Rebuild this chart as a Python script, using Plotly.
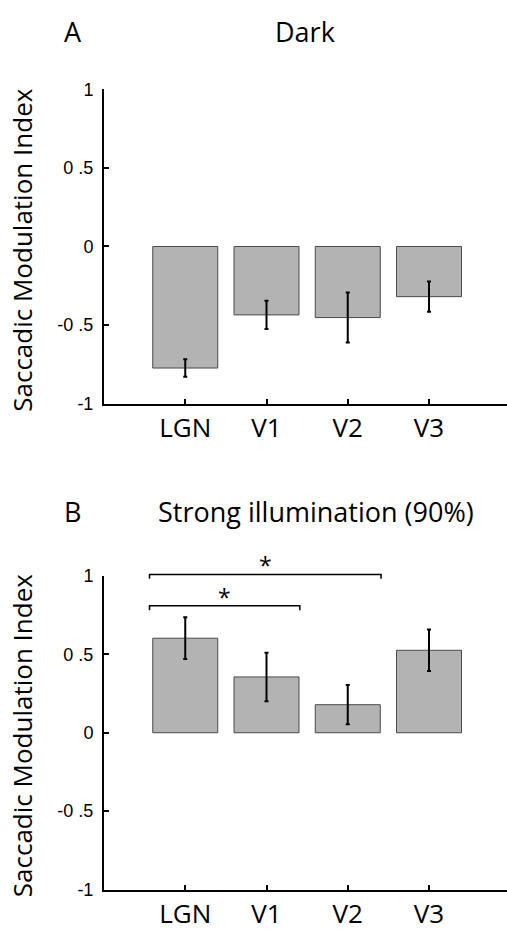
import plotly.graph_objects as go

# Saccadic modulation index per visual area, two lighting conditions
areas = ["LGN", "V1", "V2", "V3"]
dark_mean = [-0.773, -0.435, -0.452, -0.319]
dark_sem = [0.056, 0.090, 0.159, 0.096]
light_mean = [0.603, 0.356, 0.179, 0.526]
light_sem = [0.133, 0.155, 0.125, 0.132]

# significance brackets for the illuminated condition: (from area, to area, height)
sig_pairs = [("LGN", "V2", 1.01), ("LGN", "V1", 0.81)]

y_ticks = [-1, -0.5, 0, 0.5, 1]
y_ticktext = ["-1", "-0 .5", "0", "0 .5", "1"]

W, H = 507, 938
pos = list(range(1, len(areas) + 1))
X_RANGE = [0, 4.96]
Y_RANGE = [-1, 1]

BAR_FILL = "#b3b3b3"
BAR_EDGE = "#4a4a4a"
TEXT_FONT = "Open Sans, DejaVu Sans, sans-serif"
NUM_FONT = "Liberation Sans, Arial, sans-serif"


def fx(px):
    return px / W


def fy(py):
    return 1 - py / H


def bars(values, errs, xa, ya):
    return go.Bar(
        x=pos, y=values, width=0.8,
        marker=dict(color=BAR_FILL, line=dict(color=BAR_EDGE, width=1)),
        error_y=dict(type="data", array=errs, visible=True,
                     color="black", thickness=2, width=2),
        xaxis=xa, yaxis=ya, showlegend=False, hoverinfo="skip",
    )


fig = go.Figure()
fig.add_trace(bars(dark_mean, dark_sem, "x", "y"))
fig.add_trace(bars(light_mean, light_sem, "x2", "y2"))

x_dom = [fx(104), 1.0]
top_dom = [fy(402.3), fy(81)]
bot_dom = [fy(898.7), fy(578.3)]

xaxis_common = dict(
    range=X_RANGE, tickvals=pos, ticktext=areas, ticks="inside", ticklen=5,
    tickwidth=1.5, tickcolor="black", showline=True, linecolor="black",
    linewidth=2, showgrid=False, zeroline=False, domain=x_dom,
    tickfont=dict(family=TEXT_FONT, size=26, color="black"),
    ticklabelstandoff=0,
)
yaxis_common = dict(
    range=Y_RANGE, tickvals=y_ticks, ticktext=y_ticktext, ticks="inside",
    ticklen=5, tickwidth=1.5, tickcolor="black", showline=True,
    linecolor="black", linewidth=2, showgrid=False, zeroline=False,
    tickfont=dict(family=NUM_FONT, size=18, color="black"),
    ticklabelstandoff=5,
)

fig.update_layout(
    width=W, height=H, margin=dict(l=0, r=0, t=0, b=0),
    paper_bgcolor="white", plot_bgcolor="white",
    bargap=0.2,
    xaxis=dict(xaxis_common, anchor="y"),
    yaxis=dict(yaxis_common, domain=top_dom, anchor="x"),
    xaxis2=dict(xaxis_common, anchor="y2"),
    yaxis2=dict(yaxis_common, domain=bot_dom, anchor="x2"),
)

annotations = []


def text_ann(txt, px, py, size=27, angle=0):
    annotations.append(dict(
        text=txt, x=fx(px), y=fy(py), xref="paper", yref="paper",
        xanchor="center", yanchor="middle", showarrow=False, textangle=angle,
        font=dict(family=TEXT_FONT, size=size, color="black"),
    ))


text_ann("A", 73, 22)
text_ann("Dark", 305, 22)
text_ann("B", 72, 512)
text_ann("Strong illumination (90%)", 316, 512)
text_ann("Saccadic Modulation Index", 22, 245, size=26, angle=-90)
text_ann("Saccadic Modulation Index", 22, 741, size=26, angle=-90)

# brackets drawn in axis-domain units so they can sit just above the y range
shapes = []


def to_dom_x(v):
    return (v - X_RANGE[0]) / (X_RANGE[1] - X_RANGE[0])


def to_dom_y(v):
    return (v - Y_RANGE[0]) / (Y_RANGE[1] - Y_RANGE[0])


drop = 0.028
for a, b, h in sig_pairs:
    x0 = areas.index(a) + 1 - 0.44
    x1 = areas.index(b) + 1 + 0.41
    path = "M {:.4f},{:.4f} L {:.4f},{:.4f} L {:.4f},{:.4f} L {:.4f},{:.4f}".format(
        to_dom_x(x0), to_dom_y(h - drop), to_dom_x(x0), to_dom_y(h),
        to_dom_x(x1), to_dom_y(h), to_dom_x(x1), to_dom_y(h - drop))
    shapes.append(dict(type="path", path=path, xref="x2 domain",
                       yref="y2 domain", line=dict(color="black", width=1.5)))
    annotations.append(dict(
        text="*", x=to_dom_x((x0 + x1) / 2), y=to_dom_y(h),
        xref="x2 domain", yref="y2 domain",
        xanchor="center", yanchor="bottom", showarrow=False, yshift=-9,
        font=dict(family=TEXT_FONT, size=23, color="black"),
    ))

fig.update_layout(annotations=annotations, shapes=shapes)

fig.write_html("out.html")
